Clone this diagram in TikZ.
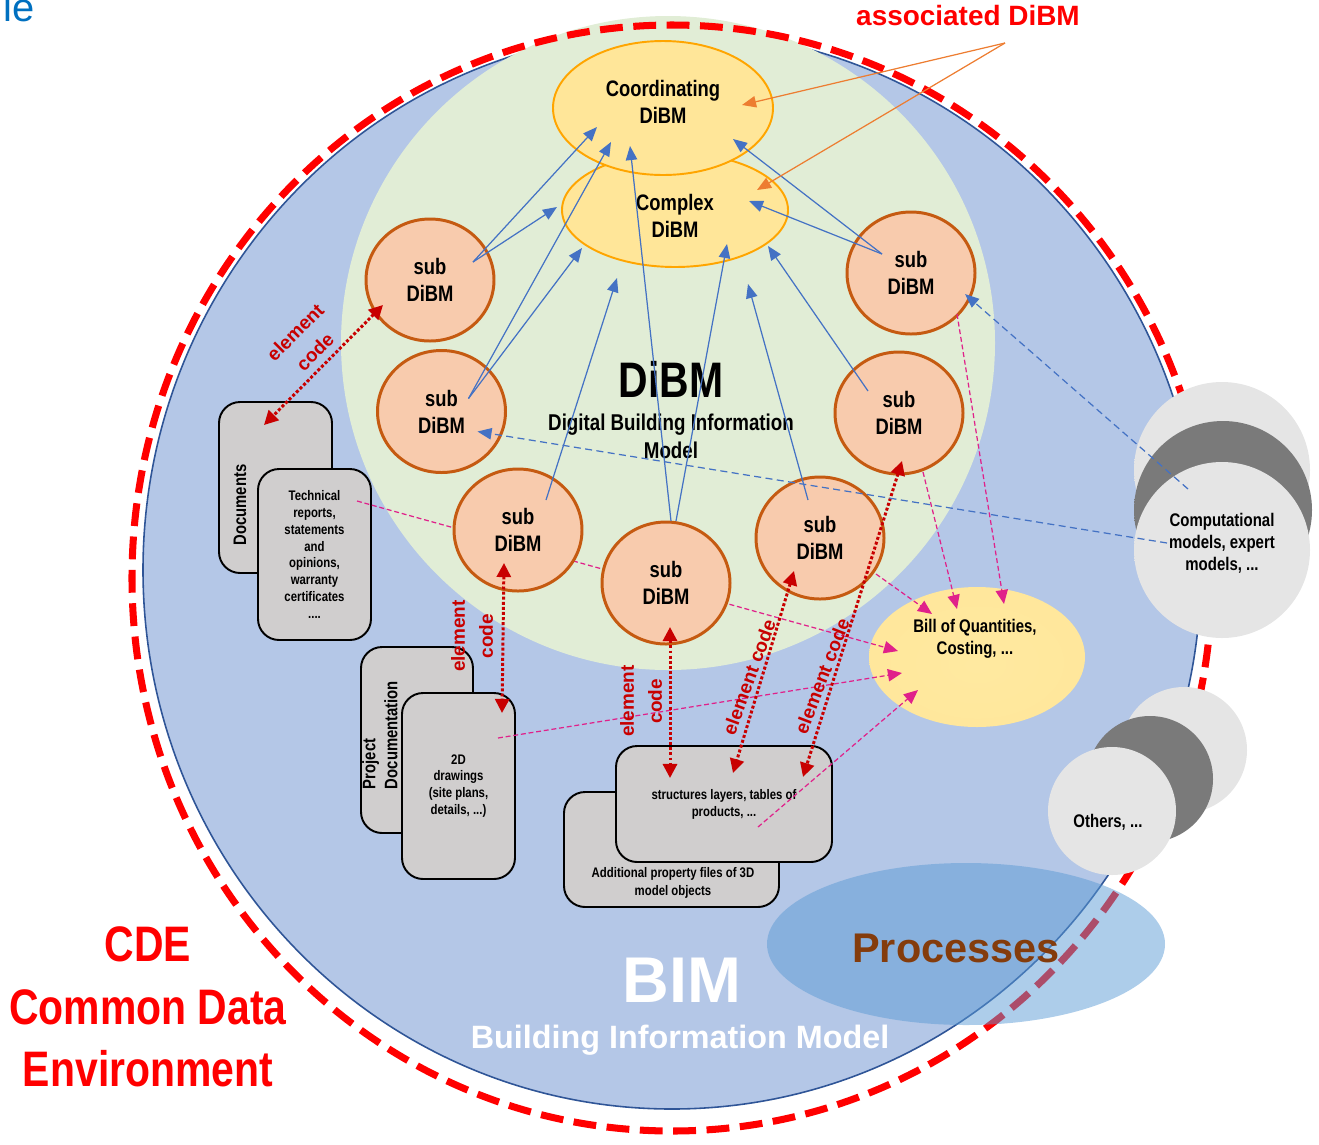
\documentclass[tikz,border=0pt]{standalone}
\usepackage{fontspec}
\setmainfont{Liberation Sans}
\newfontfamily\narrowbf[FakeStretch=0.82]{Liberation Sans Bold}
\usetikzlibrary{shapes.geometric,arrows.meta,calc}

\newcommand\PX{0.02cm}

\definecolor{bimfill}{RGB}{180,199,231}
\definecolor{bimedge}{RGB}{47,85,151}
\definecolor{cdered}{RGB}{255,0,0}
\definecolor{dibmgreen}{RGB}{225,237,214}
\definecolor{dibmrim}{RGB}{243,249,238}
\definecolor{dibmrimb}{RGB}{236,243,229}
\definecolor{dibmedge}{RGB}{200,208,192}
\definecolor{assocfill}{RGB}{255,230,153}
\definecolor{assocedge}{RGB}{255,165,0}
\definecolor{boqin}{RGB}{255,233,160}
\definecolor{boqrim}{RGB}{255,246,205}
\definecolor{boqedge}{RGB}{225,210,150}
\definecolor{subfill}{RGB}{248,203,173}
\definecolor{subedge}{RGB}{197,90,17}
\definecolor{docfill}{RGB}{208,206,206}
\definecolor{arrblue}{RGB}{68,114,196}
\definecolor{arrorange}{RGB}{237,125,49}
\definecolor{codered}{RGB}{200,0,0}
\definecolor{costlink}{RGB}{224,33,138}
\definecolor{procblue}{RGB}{91,155,213}
\definecolor{procbrown}{RGB}{132,60,12}
\definecolor{titleblue}{RGB}{0,112,192}
\definecolor{sphbody}{RGB}{229,229,229}
\definecolor{sphhi}{RGB}{252,252,252}
\definecolor{sphmid}{RGB}{236,236,236}
\definecolor{sphedge}{RGB}{200,200,200}
\definecolor{sphdbody}{RGB}{122,122,122}
\definecolor{sphdhi}{RGB}{160,160,160}
\definecolor{sphdmid}{RGB}{135,135,135}
\definecolor{sphdedge}{RGB}{100,100,100}

% soft rims for the discs
\pgfdeclareradialshading{dibmglow}{\pgfpoint{0bp}{-4bp}}{color(0bp)=(dibmgreen); color(39bp)=(dibmgreen); color(46bp)=(dibmrim); color(49bp)=(dibmrimb); color(50bp)=(dibmedge)}
\pgfdeclareradialshading{boqglow}{\pgfpoint{0bp}{-3bp}}{color(0bp)=(boqin); color(40bp)=(assocfill); color(46bp)=(boqrim); color(48.5bp)=(assocfill); color(50bp)=(boqedge)}
\pgfdeclareradialshading{sphlight}{\pgfpoint{0bp}{0bp}}{color(0bp)=(sphbody); color(40bp)=(sphbody); color(44.5bp)=(sphhi); color(47.5bp)=(sphmid); color(50bp)=(sphedge)}
\pgfdeclareradialshading{sphdark}{\pgfpoint{0bp}{0bp}}{color(0bp)=(sphdbody); color(40bp)=(sphdbody); color(44.5bp)=(sphdhi); color(47.5bp)=(sphdmid); color(50bp)=(sphdedge)}

\begin{document}
\begin{tikzpicture}[x=0.02cm, y=-0.02cm,
  nodetxt/.style={font=\narrowbf\fontsize{12.75pt}{15.3pt}\selectfont, align=center, inner sep=0pt},
  assoc/.style={ellipse, draw=assocedge, fill=assocfill, line width=1.1pt, inner sep=0pt},
  sub/.style={ellipse, draw=subedge, fill=subfill, line width=1.7pt, inner sep=0pt,
    minimum width=128*\PX, minimum height=122*\PX, nodetxt},
  docbox/.style={draw=black, fill=docfill, line width=1.1pt, rounded corners=12pt, inner sep=0pt},
  smalltxt/.style={font=\narrowbf\fontsize{7.9pt}{9.6pt}\selectfont, align=center, inner sep=0pt},
  sidetxt/.style={font=\narrowbf\fontsize{10.3pt}{12.5pt}\selectfont, align=center, inner sep=0pt},
  codelbl/.style={text=codered, font=\bfseries\fontsize{10.8pt}{15.9pt}\selectfont, align=center, inner sep=0pt},
  barrow/.style={draw=arrblue, line width=0.7pt, -{Triangle[length=8pt,width=6.5pt]}},
  bdash/.style={barrow, dash pattern=on 4pt off 2.5pt},
  oarrow/.style={draw=arrorange, line width=0.7pt, -{Triangle[length=8pt,width=6.5pt]}},
  marrow/.style={draw=costlink, line width=0.7pt, dash pattern=on 2.8pt off 1.6pt, -{Triangle[length=8pt,width=7pt]}},
  rcode/.style={draw=codered, line width=1.7pt, dash pattern=on 1.7pt off 1.2pt,
    {Triangle[length=8pt,width=8pt]}-{Triangle[length=8pt,width=8pt]}},
  sphL/.style={circle, shade, shading=sphlight, inner sep=0pt},
  sphD/.style={circle, shade, shading=sphdark, inner sep=0pt}
]
\useasboundingbox (0,0) rectangle (1319,1144);

% ---------- BIM disc ----------
\fill[bimfill] (672,570) ellipse [x radius=529, y radius=539];
\draw[bimedge, line width=0.9pt] (672,570) ellipse [x radius=529, y radius=539];

% ---------- DiBM disc ----------
\shade[shading=dibmglow] (668,343) circle (327);

% ---------- CDE boundary ----------
\draw[cdered, line width=4pt, dash pattern=on 13pt off 6pt] (672,578) ellipse [x radius=540, y radius=553];

% ---------- documents ----------
\node[docbox, minimum width=113*\PX, minimum height=171*\PX] (docs) at (275.5,487.5) {};
\node[sidetxt, rotate=90] (docstxt) at (240,505) {Documents};
\node[docbox, smalltxt, minimum width=113*\PX, minimum height=171*\PX] (tech) at (314.5,554.5)
  {Technical\\reports,\\statements\\and\\opinions,\\warranty\\certificates\\....};

\node[docbox, minimum width=112*\PX, minimum height=186*\PX] (proj) at (417,740) {};
\node[sidetxt, rotate=90, align=left] (projtxt) at (380,735) {Project\\Documentation};
\node[docbox, smalltxt, minimum width=113*\PX, minimum height=186*\PX] (draw2d) at (458.5,786)
  {2D\\drawings\\(site plans,\\details, ...)};

\node[docbox, minimum width=215*\PX, minimum height=115*\PX] (addl) at (671.5,849.5) {};
\node[smalltxt, font=\narrowbf\fontsize{7.9pt}{10.2pt}\selectfont] (addltxt) at (673,883)
  {Additional property files of 3D\\model objects};
\node[docbox, smalltxt, minimum width=216*\PX, minimum height=116*\PX] (layers) at (724,804)
  {structures layers, tables of\\products, ...};

% ---------- costing ----------
\node[ellipse, shade, shading=boqglow, minimum width=216*\PX, minimum height=140*\PX, inner sep=0pt] (boq) at (977,657) {};
\node[nodetxt, font=\narrowbf\fontsize{10.4pt}{12.5pt}\selectfont] (boqtxt) at (975,639) {Bill of Quantities,\\Costing, ...};

% link from the reports to the costing (runs behind the sub models)
\draw[marrow] ($(tech)+(42.5,-53.5)$) -- ($(boq)+(-79,-6)$);

% ---------- associated models ----------
\node[assoc, minimum width=226*\PX, minimum height=114*\PX] (cplx) at (675,210) {};
\node[assoc, minimum width=220*\PX, minimum height=134*\PX] (coord) at (663,108) {};
\node[nodetxt] (coordtxt) at (663,102) {Coordinating\\DiBM};
\node[nodetxt] (cplxtxt) at (675,216) {Complex\\DiBM};

% ---------- sub models ----------
\node[sub] (s1) at (430,280) {sub\\DiBM};
\node[sub] (s2) at (441.5,411.5) {sub\\DiBM};
\node[sub] (s3) at (518,530) {sub\\DiBM};
\node[sub] (s4) at (666,583) {sub\\DiBM};
\node[sub] (s5) at (820,538) {sub\\DiBM};
\node[sub] (s6) at (899,413) {sub\\DiBM};
\node[sub] (s7) at (911,273) {sub\\DiBM};

% ---------- DiBM title ----------
\node[anchor=base, inner sep=0pt, font=\narrowbf\fontsize{28.4pt}{34pt}\selectfont] (dibm) at (671,397) {DiBM};
\node[nodetxt, font=\narrowbf\fontsize{13pt}{15.9pt}\selectfont] (dibmsub) at (671,436) {Digital Building Information\\Model};

% ---------- aggregation arrows ----------
\draw[barrow] ($(s1)+(43,-18)$) -- ($(coord)+(-66,19)$);
\draw[barrow] ($(s1)+(43,-18)$) -- ($(cplx)+(-118,-3)$);
\draw[barrow] ($(s2)+(27,-13)$) -- ($(coord)+(-52,34)$);
\draw[barrow] ($(s2)+(27,-13)$) -- ($(cplx)+(-93,38)$);
\draw[barrow] ($(s3)+(28,-30)$) -- ($(cplx)+(-58,68)$);
\draw[barrow] ($(s4)+(5,-62)$) -- ($(coord)+(-33,38)$);
\draw[barrow] ($(s4)+(10,-62)$) -- ($(cplx)+(52,34)$);
\draw[barrow] ($(s5)+(-12,-38)$) -- ($(cplx)+(73,74)$);
\draw[barrow] ($(s6)+(-31,-22)$) -- ($(cplx)+(93,36)$);
\draw[barrow] ($(s7)+(-29,-19)$) -- ($(coord)+(70,31)$);
\draw[barrow] ($(s7)+(-29,-19)$) -- ($(cplx)+(74,-9)$);

% ---------- links to costing ----------
\draw[marrow] ($(s7)+(46,41)$) -- ($(boq)+(27,-53)$);
\draw[marrow] ($(s6)+(24,59)$) -- ($(boq)+(-20,-48)$);
\draw[marrow] ($(s5)+(56,36)$) -- ($(boq)+(-45,-43)$);
\draw[marrow] ($(draw2d)+(39.5,-48)$) -- ($(boq)+(-75,16)$);
\draw[marrow] ($(layers)+(34,23)$) -- ($(boq)+(-59,33)$);

% ---------- element codes ----------
\draw[rcode] ($(s1)+(-47,25)$) -- ($(docs)+(-11.5,-62.5)$);
\draw[rcode] ($(s3)+(-14,33)$) -- ($(draw2d)+(43.5,-73)$);
\draw[rcode] ($(s4)+(4,44)$) -- ($(layers)+(-54,-26)$);
\draw[rcode] ($(s5)+(-26,33)$) -- ($(layers)+(9,-31)$);
\draw[rcode] ($(s6)+(3,48)$) -- ($(layers)+(79,-27)$);

\node[codelbl, rotate=45] (code1) at (305,342) {element\\code};
\node[codelbl, rotate=90] (code2) at (472,636) {element\\code};
\node[codelbl, rotate=90] (code3) at (641,701) {element\\code};
\node[codelbl, rotate=70] (code4) at (749,677) {element code};
\node[codelbl, rotate=69] (code5) at (822,676) {element code};

% ---------- associated DiBM callout ----------
\node[anchor=base, inner sep=0pt, text=cdered, font=\bfseries\fontsize{15.9pt}{19pt}\selectfont] (assoctxt) at (968,25) {associated DiBM};
\coordinate (assocfoot) at ($(968,14)+(37,29)$);
\draw[oarrow] (assocfoot) -- ($(coord)+(79,-3)$);
\draw[oarrow] (assocfoot) -- ($(cplx)+(82,-20)$);

% ---------- external models ----------
\node[sphL, minimum size=176*\PX] (compb) at (1222,470) {};
\node[sphD, minimum size=178*\PX] (compm) at (1223,510) {};
\node[sphL, minimum size=176*\PX] (comp) at (1222,550) {};
\node[sidetxt, font=\narrowbf\fontsize{10.4pt}{12.5pt}\selectfont] (comptxt) at (1222,543) {Computational\\models, expert\\models, ...};

\node[sphL, minimum size=126*\PX] (othb) at (1184,750) {};
\node[sphD, minimum size=126*\PX] (othm) at (1150,779) {};
\node[sphL, minimum size=128*\PX] (oth) at (1112,811) {};
\node[sidetxt, font=\narrowbf\fontsize{10.4pt}{12.5pt}\selectfont] (othtxt) at (1108,822) {Others, ...};

\draw[bdash] ($(comp)+(-34,-61)$) -- ($(s7)+(54,21)$);
\draw[bdash] ($(comp)+(-55,-7)$) -- ($(s2)+(36,20)$);

% ---------- processes ----------
\node[ellipse, minimum width=398*\PX, minimum height=162*\PX, fill=procblue, fill opacity=0.5, inner sep=0pt] (proc) at (966,944) {};
\node[anchor=base, inner sep=0pt, text=procbrown, font=\bfseries\fontsize{23.6pt}{28pt}\selectfont] (proctxt) at (956,962) {Processes};

% ---------- titles ----------
\node[anchor=base, inner sep=0pt, text=white, font=\bfseries\fontsize{36.8pt}{44pt}\selectfont] (bim) at (682,1002) {BIM};
\node[anchor=base, inner sep=0pt, text=white, font=\bfseries\fontsize{18.4pt}{22pt}\selectfont] (bimsub) at (680,1048) {Building Information Model};
\node[inner sep=0pt, align=center, text=cdered, font=\narrowbf\fontsize{28.4pt}{35.7pt}\selectfont] (cde) at (148,1007) {CDE\\Common Data\\Environment};
\node[anchor=base east, inner sep=0pt, text=titleblue, font=\fontsize{22.7pt}{27pt}\selectfont] (head) at (35,21) {le};
\end{tikzpicture}
\end{document}
